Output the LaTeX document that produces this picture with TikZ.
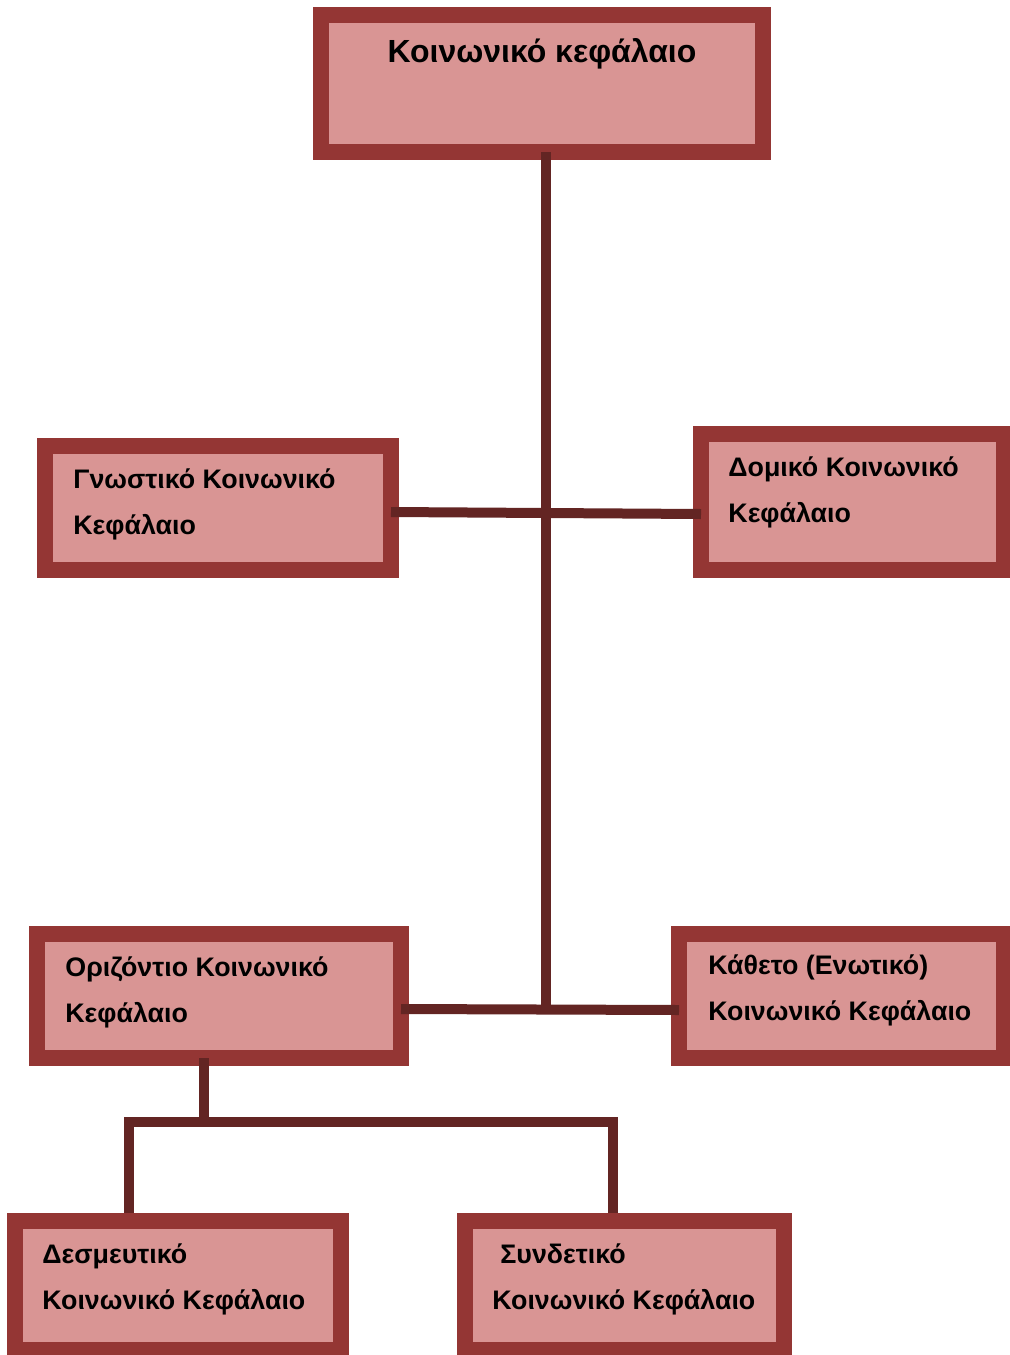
\documentclass[tikz,border=0pt]{standalone}
\usepackage{fontspec}
\setmainfont{Liberation Sans}
\definecolor{boxborder}{HTML}{943634}
\definecolor{boxfill}{HTML}{D99594}
\definecolor{linkcol}{HTML}{632523}
\tikzset{
  capbox/.style={draw=boxborder,fill=boxfill,line width=8pt,outer sep=0pt,inner sep=0pt},
  captitle/.style={anchor=base,inner sep=0pt,font=\bfseries\fontsize{16}{19}\selectfont},
  captext/.style={anchor=base west,inner sep=0pt,font=\bfseries\fontsize{13.4}{23.4}\selectfont},
  link/.style={draw=linkcol,line width=5pt}
}
\newcommand{\twoline}[2]{\begin{tabular}[t]{@{}l@{}}#1\\#2\end{tabular}}

\begin{document}
\begin{tikzpicture}[x=0.5pt,y=-0.5pt]
    \useasboundingbox (0,0) rectangle (1010,1355);
    % boxes
    \node[capbox,minimum width=221pt,minimum height=68.5pt] (kk) at (542,83.5) {};
    \node[capbox,minimum width=173pt,minimum height=62pt] (gn) at (218,508) {};
    \node[capbox,minimum width=151.5pt,minimum height=68pt] (dom) at (852.5,502) {};
    \node[capbox,minimum width=182pt,minimum height=62pt] (or) at (219,996) {};
    \node[capbox,minimum width=162.5pt,minimum height=62pt] (ka) at (841.5,996) {};
    \node[capbox,minimum width=163pt,minimum height=64.5pt] (des) at (178,1285.5) {};
    \node[capbox,minimum width=159.5pt,minimum height=64.5pt] (syn) at (624.5,1285.5) {};
    % texts
    \node[captitle] (kk-t) at (542,62) {Κοινωνικό κεφάλαιο};
    \node[captext] (gn-t) at (73,488) {\twoline{Γνωστικό Κοινωνικό}{Κεφάλαιο}};
    \node[captext] (dom-t) at (728,476) {\twoline{Δομικό Κοινωνικό}{Κεφάλαιο}};
    \node[captext] (or-t) at (65,976) {\twoline{Οριζόντιο Κοινωνικό}{Κεφάλαιο}};
    \node[captext] (ka-t) at (708,974) {\twoline{Κάθετο (Ενωτικό)}{Κοινωνικό Κεφάλαιο}};
    \node[captext] (des-t) at (42,1263) {\twoline{Δεσμευτικό}{Κοινωνικό Κεφάλαιο}};
    \node[captext] (syn-t) at (492,1263) {\twoline{\hspace{4pt}Συνδετικό}{Κοινωνικό Κεφάλαιο}};
    % links
    \coordinate (spine) at (546,1009);
    \coordinate (fork) at (204,1122);
    \coordinate (lf) at (129,1122);
    \coordinate (rf) at (613,1122);
    \path[link] (spine |- kk.south) -- (spine);
    \path[link] ([yshift=-2pt]gn.east) -- ([yshift=-6pt]dom.west);
    \path[link] ([yshift=-6.5pt]or.east) -- ([yshift=-7pt]ka.west);
    \path[link] (fork |- or.south) -- (fork);
    \path[link,shorten <=4pt,shorten >=4pt] (lf |- des.north) -- (lf) -- (rf) -- (rf |- syn.north);
\end{tikzpicture}
\end{document}
